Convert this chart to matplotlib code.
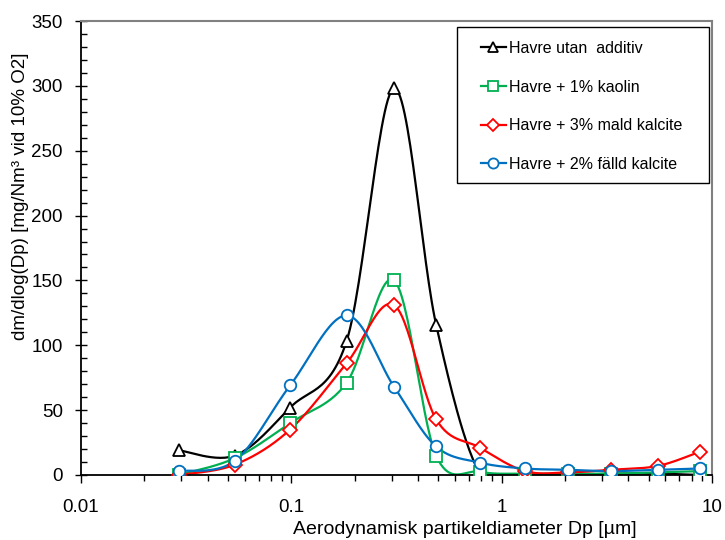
import numpy as np
import matplotlib.pyplot as plt
from matplotlib.patches import Rectangle
from matplotlib.ticker import MultipleLocator, FixedLocator, NullFormatter

plt.rcParams['font.family'] = ['Liberation Sans', 'DejaVu Sans']

# particle diameters [um] (impactor stages)
dp = [0.0292, 0.054, 0.0987, 0.183, 0.308, 0.488, 0.789, 1.29, 2.07, 3.31, 5.54, 8.78]

utan_additiv = [19, 15, 52, 103, 298, 116, 1, 0, 0, 1, 1, 0]
kaolin_1 = [0, 13, 40, 71, 150, 15, 2.5, 1, 1, 1, 2, 3]
mald_kalcite_3 = [0, 8, 35, 86, 131, 43, 21, 3, 2, 4, 7, 18]
falld_kalcite_2 = [3, 11, 69, 123, 68, 22, 9.5, 5, 4, 3, 4, 5]


def smooth(x, y, n=30):
    # Excel-like smoothed line: Catmull-Rom bezier in (log x, y)
    lx = np.log10(x)
    y = np.asarray(y, dtype=float)
    px = np.concatenate([[lx[0]], lx, [lx[-1]]])
    py = np.concatenate([[y[0]], y, [y[-1]]])
    xs, ys = [], []
    t = np.linspace(0, 1, n)
    for i in range(1, len(px) - 2):
        p0 = np.array([px[i], py[i]])
        p3 = np.array([px[i + 1], py[i + 1]])
        p1 = p0 + (p3 - np.array([px[i - 1], py[i - 1]])) / 6
        p2 = p3 - (np.array([px[i + 2], py[i + 2]]) - p0) / 6
        b = ((1 - t) ** 3)[:, None] * p0 + (3 * (1 - t) ** 2 * t)[:, None] * p1 \
            + (3 * (1 - t) * t ** 2)[:, None] * p2 + (t ** 3)[:, None] * p3
        xs.extend(b[:, 0])
        ys.extend(b[:, 1])
    return 10 ** np.array(xs), np.array(ys)


fig = plt.figure(figsize=(7.25, 5.4), dpi=100)
ax = fig.add_axes([0.1117, 0.1204, 0.8703, 0.8407])

series = [
    ('Havre utan  additiv', utan_additiv, 'black', '^'),
    ('Havre + 1% kaolin', kaolin_1, '#00B050', 's'),
    ('Havre + 3% mald kalcite', mald_kalcite_3, '#FF0000', 'D'),
    ('Havre + 2% fälld kalcite', falld_kalcite_2, '#0070C0', 'o'),
]

for label, vals, col, mk in series:
    sx, sy = smooth(dp, vals)
    ax.plot(sx, sy, color=col, lw=1.6, zorder=2)
    ms = 6.8 if mk == 'D' else 8.3
    ax.plot(dp, vals, linestyle='none', marker=mk, ms=ms, mfc='white',
            mec=col, mew=1.3, zorder=3)
    ax.plot([], [], color=col, lw=1.6, marker=mk, ms=ms - 1, mfc='white',
            mec=col, mew=1.3, label=label)

ax.set_xscale('log')
ax.set_xlim(0.01, 10)
ax.set_ylim(0, 350)

ax.xaxis.set_major_locator(FixedLocator([0.01, 0.1, 1, 10]))
ax.set_xticklabels(['0.01', '0.1', '1', '10'])
minors = [m * 10.0 ** e for e in (-2, -1, 0) for m in range(2, 10)]
ax.xaxis.set_minor_locator(FixedLocator(minors))
ax.xaxis.set_minor_formatter(NullFormatter())
ax.yaxis.set_major_locator(MultipleLocator(50))
ax.yaxis.set_minor_locator(MultipleLocator(10))

ax.tick_params(axis='y', which='major', direction='inout', length=8, width=1, labelsize=13.5, pad=9)
ax.tick_params(axis='y', which='minor', direction='in', length=4, width=1)
ax.tick_params(axis='x', which='major', direction='out', length=6, width=1, labelsize=13.5, pad=11)
ax.tick_params(axis='x', which='minor', direction='out', length=4, width=1)

for s in ['top', 'right']:
    ax.spines[s].set_color('#808080')
    ax.spines[s].set_linewidth(1.5)
for s in ['left', 'bottom']:
    ax.spines[s].set_linewidth(1.3)

# axis titles placed like in the original sheet
fig.text(465 / 725, 1 - 529 / 540, 'Aerodynamisk partikeldiameter Dp [µm]',
         fontsize=14, ha='center', va='center')
fig.text(21 / 725, 1 - 196.5 / 540, 'dm/dlog(Dp) [mg/Nm³ vid 10% O2]',
         fontsize=13.5, rotation=90, ha='center', va='center')

leg = ax.legend(loc='upper left', bbox_to_anchor=(481 / 725, 1 - 41 / 540),
                bbox_transform=fig.transFigure, fontsize=11.5, frameon=False,
                handlelength=1.55, handletextpad=0.2, labelspacing=1.48,
                borderpad=0, borderaxespad=0)
fig.patches.append(Rectangle((457 / 725, 1 - 183 / 540), 252 / 725, 156 / 540,
                             transform=fig.transFigure, fill=False,
                             edgecolor='black', lw=1.0, zorder=5))

fig.savefig('out.png', dpi=100)
